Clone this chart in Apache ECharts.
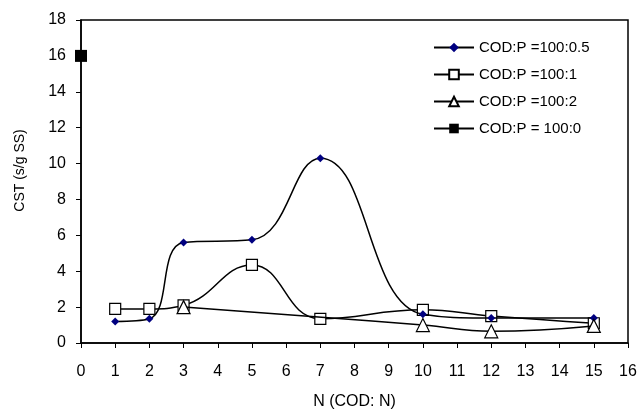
<!DOCTYPE html>
<html>
<head>
<meta charset="UTF-8">
<title>CST vs N</title>
<script src="https://cdn.jsdelivr.net/npm/echarts@6/dist/echarts.min.js"></script>
<style>
  html, body { margin: 0; padding: 0; background: #fff; }
  #chart { width: 638px; height: 412px; }
</style>
</head>
<body>
<div id="chart"></div>
<script>
  // data
  let seriesNames = ['COD:P =100:0.5', 'COD:P =100:1', 'COD:P =100:2', 'COD:P = 100:0'];
  let nP05 = [1, 2, 3, 5, 7, 10, 12, 15];
  let cstP05 = [1.2, 1.35, 5.6, 5.75, 10.3, 1.6, 1.4, 1.4];
  let nP1 = [1, 2, 3, 5, 7, 10, 12, 15];
  let cstP1 = [1.9, 1.9, 2.1, 4.35, 1.35, 1.85, 1.5, 1.1];
  let nP2 = [3, 10, 12, 15];
  let cstP2 = [2.0, 1.0, 0.65, 0.95];
  let nP0 = [0];
  let cstP0 = [16];

  function pairs(xs, ys) {
    return xs.map(function (x, i) { return [x, ys[i]]; });
  }

  let font = 'Liberation Sans, Arial, sans-serif';
  let myChart = echarts.init(document.getElementById('chart'));

  let option = {
    animation: false,
    textStyle: { fontFamily: font },
    grid: {
      left: 81, right: 10, top: 20, bottom: 69,
      outerBoundsMode: 'none',
      show: true, borderColor: '#000', borderWidth: 1.5
    },
    legend: {
      orient: 'vertical',
      left: 428, top: 35,
      itemGap: 12,
      itemWidth: 40, itemHeight: 12,
      textStyle: { fontSize: 15, color: '#000', fontFamily: font },
      data: seriesNames
    },
    xAxis: {
      type: 'value', min: 0, max: 16, interval: 1,
      name: 'N (COD: N)', nameLocation: 'middle', nameGap: 51,
      nameTextStyle: { fontSize: 16, color: '#000' },
      axisLine: { lineStyle: { color: '#000', width: 1.5 } },
      axisTick: { show: true, length: 5, lineStyle: { color: '#000' } },
      axisLabel: { fontSize: 16, color: '#000', margin: 21 },
      splitLine: { show: false }
    },
    yAxis: {
      type: 'value', min: 0, max: 18, interval: 2,
      name: 'CST (s/g SS)', nameLocation: 'middle', nameGap: 54,
      nameTextStyle: { fontSize: 14, color: '#000', padding: [0, 0, 0, 22] },
      axisLine: { show: true, lineStyle: { color: '#000', width: 1.5 } },
      axisTick: { show: true, length: 5, lineStyle: { color: '#000' } },
      axisLabel: { fontSize: 16, color: '#000', margin: 15 },
      splitLine: { show: false }
    },
    series: [
      {
        name: seriesNames[0], type: 'line', smooth: 0.45,
        data: pairs(nP05, cstP05),
        symbol: 'diamond', symbolSize: 8,
        itemStyle: { color: '#000080', borderWidth: 0 },
        lineStyle: { color: '#000', width: 1.5 },
        z: 4
      },
      {
        name: seriesNames[1], type: 'line', smooth: 0.45,
        data: pairs(nP1, cstP1),
        symbol: 'rect', symbolSize: 11,
        itemStyle: { color: '#fff', borderColor: '#000', borderWidth: 1.2 },
        lineStyle: { color: '#000', width: 1.5 },
        z: 3
      },
      {
        name: seriesNames[2], type: 'line', smooth: 0.45,
        data: pairs(nP2, cstP2),
        symbol: 'triangle', symbolSize: 13,
        itemStyle: { color: '#fff', borderColor: '#000', borderWidth: 1.2 },
        lineStyle: { color: '#000', width: 1.5 },
        z: 5
      },
      {
        name: seriesNames[3], type: 'line',
        data: pairs(nP0, cstP0),
        symbol: 'rect', symbolSize: 12,
        itemStyle: { color: '#000' },
        lineStyle: { color: '#000', width: 1.5 },
        z: 6
      }
    ]
  };

  myChart.setOption(option);
</script>
</body>
</html>
